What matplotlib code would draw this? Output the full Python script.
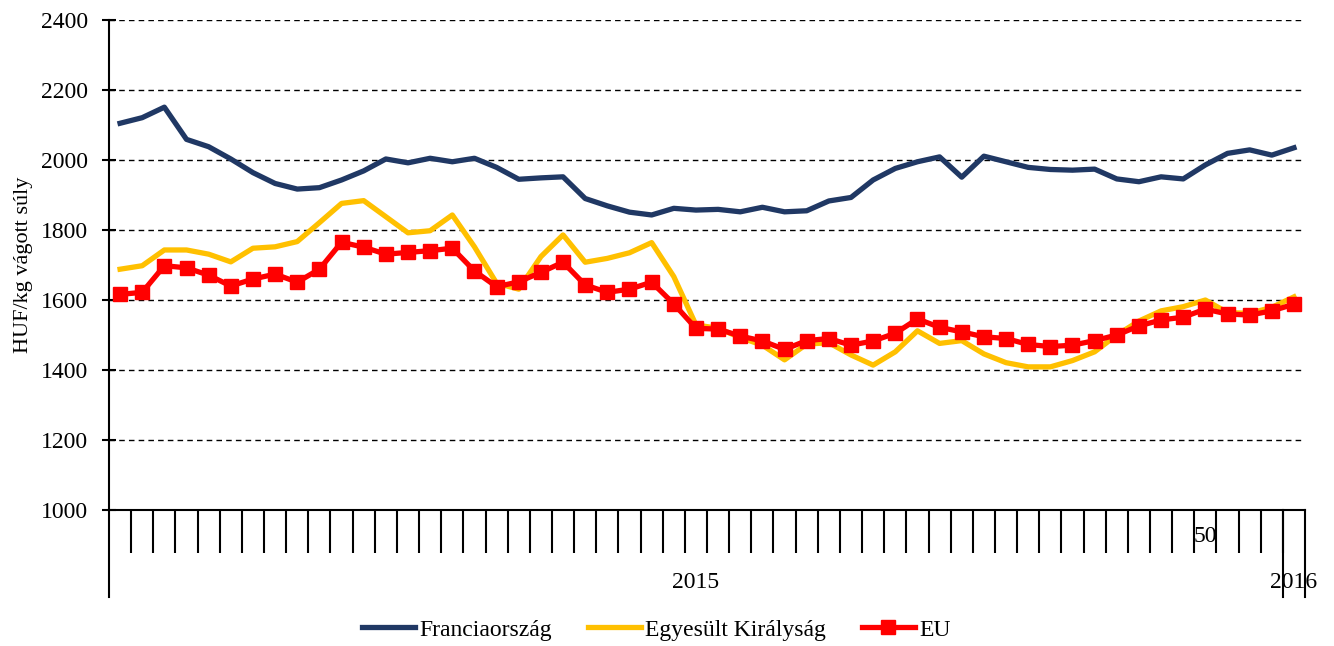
import matplotlib.pyplot as plt
import numpy as np

# weekly prices, 2015 week 1 .. 2016 week 1
weeks = list(range(1, 54)) + [1]
france = [2105, 2121, 2151, 2059, 2038, 2003, 1964, 1933, 1917, 1921,
          1943, 1969, 2003, 1992, 2005, 1995, 2005, 1979, 1945, 1949,
          1952, 1890, 1869, 1851, 1843, 1862, 1857, 1859, 1852, 1865,
          1852, 1855, 1883, 1893, 1943, 1976, 1995, 2009, 1951, 2011,
          1995, 1979, 1973, 1971, 1974, 1946, 1938, 1952, 1946, 1986,
          2019, 2029, 2014, 2035]
uk = [1688, 1698, 1743, 1743, 1731, 1709, 1748, 1752, 1767, 1821,
      1876, 1884, 1838, 1792, 1798, 1843, 1752, 1648, 1631, 1724,
      1786, 1708, 1719, 1735, 1764, 1667, 1529, 1519, 1493, 1471,
      1429, 1474, 1478, 1443, 1414, 1452, 1512, 1476, 1484, 1446,
      1421, 1409, 1409, 1427, 1452, 1500, 1540, 1569, 1581, 1600,
      1564, 1562, 1579, 1609]
eu = [1616, 1622, 1698, 1692, 1671, 1640, 1660, 1674, 1651, 1688,
      1765, 1751, 1731, 1736, 1741, 1748, 1683, 1638, 1652, 1679,
      1708, 1643, 1622, 1631, 1651, 1589, 1519, 1517, 1497, 1483,
      1459, 1484, 1490, 1471, 1483, 1505, 1546, 1522, 1509, 1495,
      1490, 1473, 1467, 1471, 1484, 1500, 1526, 1543, 1551, 1574,
      1560, 1557, 1569, 1588]
years = ["2015", "2016"]
year_counts = [53, 1]
shown_week = 50

plt.rcParams['font.family'] = ['Liberation Serif', 'DejaVu Serif']

x = np.arange(len(weeks))
fig = plt.figure(figsize=(13.34, 6.46), dpi=100)
ax = fig.add_axes([0.0817, 0.2105, 0.8966, 0.7585])

ax.plot(x, france, color='#203864', lw=3.8, label='Franciaország')
ax.plot(x, uk, color='#FFC000', lw=3.8, label='Egyesült Királyság')
ax.plot(x, eu, color='#FF0000', lw=3.8, marker='s', markersize=10, label='EU')

ax.set_xlim(-0.5, len(weeks) - 0.5)
ax.set_ylim(1000, 2400)
ax.set_yticks(range(1000, 2401, 200))
ax.tick_params(axis='y', direction='inout', length=10, width=1.5, labelsize=17, pad=10)
ax.set_ylabel('HUF/kg vágott súly', fontsize=16, labelpad=6)

ax.yaxis.grid(True, linestyle=(0, (4, 3)), color='black', linewidth=1)
ax.set_axisbelow(True)

for s in ['top', 'right']:
    ax.spines[s].set_visible(False)
ax.spines['left'].set_linewidth(1.5)
ax.spines['bottom'].set_linewidth(1.5)

# category ticks between weeks
ax.set_xticks([])
ax.set_xticks(np.arange(0.5, len(weeks) - 0.5, 1), minor=True)
ax.tick_params(axis='x', which='minor', direction='out', length=31, width=1.5, labelbottom=False)

# year group separators and labels
trans = ax.get_xaxis_transform()
edges = np.concatenate([[0], np.cumsum(year_counts)]) - 0.5
for e in edges:
    ax.plot([e, e], [0, -0.178], transform=trans, color='black', lw=1.5, clip_on=False)
for i, yr in enumerate(years):
    ax.text((edges[i] + edges[i + 1]) / 2, -0.147, yr, transform=trans,
            ha='center', va='center', fontsize=17)
ax.text(weeks.index(shown_week), -0.055, str(shown_week), transform=trans,
        ha='center', va='center', fontsize=17)

fig.legend(loc='center', bbox_to_anchor=(0.492, 0.025), ncol=3, frameon=False,
           fontsize=17, handlelength=2.25, handletextpad=0.2, columnspacing=1.5)

fig.savefig('out.png', dpi=100)
